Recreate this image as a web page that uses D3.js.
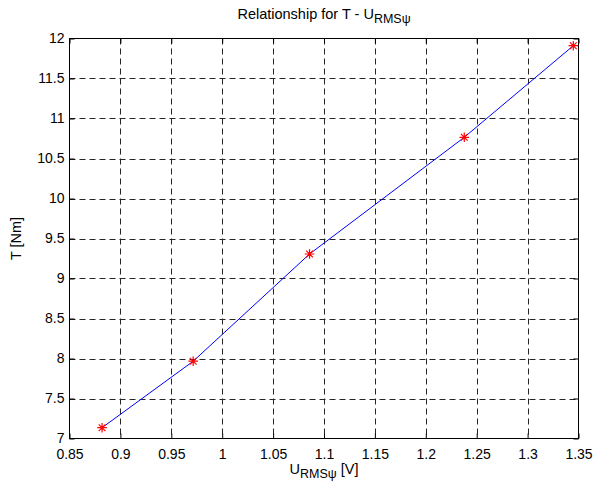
<!DOCTYPE html>
<html><head><meta charset="utf-8">
<script src="https://cdn.jsdelivr.net/npm/d3@7"></script>
<style>body{margin:0;background:#fff}svg{display:block}text{font-family:"Liberation Sans",Arial,sans-serif;fill:#000}</style>
</head><body><svg id="c" width="601" height="486"></svg>
<script>
const xValues = [0.882, 0.9715, 1.0858, 1.2378, 1.3449];
const yValues = [7.135, 7.966, 9.306, 10.765, 11.91];
const xTicks = [0.85,0.9,0.95,1,1.05,1.1,1.15,1.2,1.25,1.3,1.35];
const yTicks = [7,7.5,8,8.5,9,9.5,10,10.5,11,11.5,12];

const W=601,H=486, L=69.5, R=578.5, T=38.5, B=438.5;
const svg=d3.select("#c");
svg.append("rect").attr("width",W).attr("height",H).attr("fill","#fff");
const x=d3.scaleLinear().domain([0.85,1.35]).range([L,R]);
const y=d3.scaleLinear().domain([7,12]).range([B,T]);

const g=svg.append("g");
g.selectAll(".gx").data(xTicks.slice(1,-1)).join("line")
 .attr("x1",d=>Math.round(x(d))+0.5).attr("x2",d=>Math.round(x(d))+0.5).attr("y1",T).attr("y2",B)
 .attr("stroke","#262626").attr("stroke-dasharray","6,4").attr("stroke-width",1);
g.selectAll(".gy").data(yTicks.slice(1,-1)).join("line")
 .attr("y1",d=>Math.round(y(d))+0.5).attr("y2",d=>Math.round(y(d))+0.5).attr("x1",L).attr("x2",R)
 .attr("stroke","#262626").attr("stroke-dasharray","6,4").attr("stroke-width",1);

const fmt=d=>String(+d.toFixed(2));
const ax=d3.axisBottom(x).tickValues(xTicks).tickFormat(fmt).tickSize(-5).tickPadding(10.5);
const ay=d3.axisLeft(y).tickValues(yTicks).tickFormat(fmt).tickSize(-5).tickPadding(5);
const gx=svg.append("g").attr("transform",`translate(0,${B})`).call(ax);
const gy=svg.append("g").attr("transform",`translate(${L},0)`).call(ay);
const gxt=svg.append("g").attr("transform",`translate(0,${T})`).call(d3.axisTop(x).tickValues(xTicks).tickFormat("").tickSize(-5));
const gyr=svg.append("g").attr("transform",`translate(${R},0)`).call(d3.axisRight(y).tickValues(yTicks).tickFormat("").tickSize(-5));
[gx,gy,gxt,gyr].forEach(a=>{a.select(".domain").remove();a.selectAll("line").attr("stroke","#000");
 a.selectAll("text").attr("font-size",14).attr("font-family","Liberation Sans, Arial, sans-serif");});
gy.selectAll("text").attr("dy","0.32em");
svg.append("rect").attr("x",L).attr("y",T).attr("width",R-L).attr("height",B-T).attr("fill","none").attr("stroke","#000");

svg.append("path").datum(xValues.map((v,i)=>[v,yValues[i]]))
 .attr("d",d3.line().x(d=>x(d[0])).y(d=>y(d[1]))).attr("fill","none").attr("stroke","#0000ff").attr("stroke-width",1);
const s=4.8;
const mk=svg.selectAll(".m").data(xValues.map((v,i)=>[v,yValues[i]])).join("g")
 .attr("transform",d=>`translate(${x(d[0])},${y(d[1])})`);
mk.append("path").attr("d",`M${-s},0H${s}M0,${-s}V${s}M${-s*0.7},${-s*0.7}L${s*0.7},${s*0.7}M${-s*0.7},${s*0.7}L${s*0.7},${-s*0.7}`)
 .attr("stroke","#ff0000").attr("stroke-width",1.2);

const t=svg.append("text").attr("x",(L+R)/2).attr("y",19).attr("text-anchor","middle").attr("font-size",14.5);
t.append("tspan").text("Relationship for T - U");
t.append("tspan").attr("font-size",12.5).attr("dy",4).text("RMSψ");
const xl=svg.append("text").attr("x",(L+R)/2).attr("y",474).attr("text-anchor","middle").attr("font-size",14.5);
xl.append("tspan").text("U");
xl.append("tspan").attr("font-size",12.5).attr("dy",4).text("RMSψ");
xl.append("tspan").attr("dy",-4).text(" [V]");
svg.append("text").attr("transform",`translate(21,${(T+B)/2}) rotate(-90)`).attr("text-anchor","middle").attr("font-size",14.5).text("T [Nm]");
</script></body></html>
